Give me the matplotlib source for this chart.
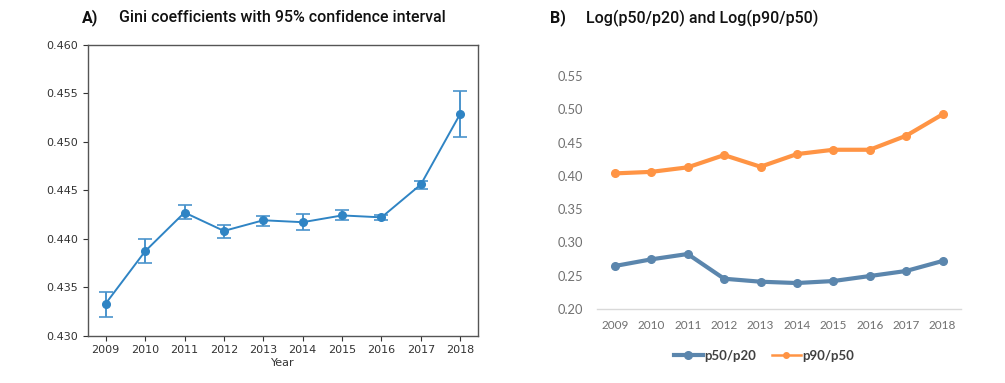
import matplotlib
matplotlib.use("Agg")
import matplotlib.pyplot as plt
from matplotlib.lines import Line2D
import numpy as np

years = [2009, 2010, 2011, 2012, 2013, 2014, 2015, 2016, 2017, 2018]
gini = [0.4333, 0.4387, 0.4427, 0.4408, 0.4419, 0.4417, 0.4424, 0.4422, 0.4456, 0.4529]
gini_low = [0.4319, 0.4375, 0.4420, 0.4401, 0.4413, 0.4409, 0.4419, 0.4419, 0.4451, 0.4505]
gini_high = [0.4345, 0.4400, 0.4435, 0.4414, 0.4423, 0.4425, 0.4430, 0.4424, 0.4460, 0.4553]
p50_p20 = [0.2646, 0.2746, 0.2826, 0.2455, 0.2410, 0.2390, 0.2420, 0.2495, 0.2571, 0.2721]
p90_p50 = [0.4037, 0.4060, 0.4128, 0.4312, 0.4137, 0.4327, 0.4392, 0.4392, 0.4602, 0.4923]
series_names = ["p50/p20", "p90/p50"]

W, H = 1005, 383
fig = plt.figure(figsize=(W / 100, H / 100), dpi=100)

# ---------- Panel A ----------
axA = fig.add_axes([88 / W, 1 - 335.5 / H, 390 / W, 290.5 / H])
g = np.array(gini)
yerr = np.vstack([g - np.array(gini_low), np.array(gini_high) - g])
axA.errorbar(years, gini, yerr=yerr, fmt='-o', color='#2f84c4', ecolor='#4a94cc',
             markersize=5.5, lw=1.4, elinewidth=1.4, capsize=5, capthick=1.2)
axA.set_ylim(0.430, 0.460)
axA.set_xlim(2008.55, 2018.45)
axA.set_xticks(years)
axA.set_yticks([0.430, 0.435, 0.440, 0.445, 0.450, 0.455, 0.460])
axA.set_yticklabels(["0.430", "0.435", "0.440", "0.445", "0.450", "0.455", "0.460"])
axA.tick_params(labelsize=8, colors='#333333', length=3.5)
for s in axA.spines.values():
    s.set_color('#555555')
    s.set_linewidth(1.0)
axA.set_xlabel("Year", fontsize=8, color='#333333', labelpad=2)

fig.text(82 / W, 1 - 18 / H, "A)", fontsize=11.5, fontweight='bold', family='Roboto',
         va='center', ha='left', color='#111111')
fig.text(119 / W, 1 - 18 / H, "Gini coefficients with 95% confidence interval",
         fontsize=11.5, fontweight='medium', family='Roboto', va='center', ha='left', color='#111111')

# ---------- Panel B ----------
axB = fig.add_axes([596.7 / W, 1 - 309 / H, 364 / W, 233 / H])
x = np.arange(len(years))
blue = '#5b86ad'
orange = '#ff9444'
axB.plot(x, p50_p20, '-o', color=blue, lw=3, markersize=5.5, solid_capstyle='round')
axB.plot(x, p90_p50, '-o', color=orange, lw=3, markersize=5.5, solid_capstyle='round')
axB.set_xlim(-0.5, len(years) - 0.5)
axB.set_ylim(0.20, 0.55)
axB.set_yticks([0.20, 0.25, 0.30, 0.35, 0.40, 0.45, 0.50, 0.55])
axB.set_yticklabels(["0.20", "0.25", "0.30", "0.35", "0.40", "0.45", "0.50", "0.55"])
axB.set_xticks(x)
axB.set_xticklabels([str(y) for y in years])
for side in ['top', 'right', 'left']:
    axB.spines[side].set_visible(False)
axB.spines['bottom'].set_color('#d9d9d9')
axB.spines['bottom'].set_linewidth(1.0)
axB.tick_params(axis='both', length=0, colors='#707070')
axB.tick_params(axis='y', labelsize=9.3, pad=10)
axB.tick_params(axis='x', labelsize=8.5, pad=8)
for lab in axB.get_xticklabels() + axB.get_yticklabels():
    lab.set_family('Lato')

handles = [Line2D([0], [0], color=blue, lw=3, marker='o', markersize=5.5),
           Line2D([0], [0], color=orange, lw=1.8, marker='o', markersize=4)]
leg = fig.legend(handles, series_names, loc='center', bbox_to_anchor=(764 / W, 1 - 356 / H),
                 ncol=2, frameon=False, handlelength=2.2, handletextpad=0.1, columnspacing=1.2,
                 prop={'family': 'Lato', 'weight': 'bold', 'size': 9.5})
for t in leg.get_texts():
    t.set_color('#404040')

fig.text(550 / W, 1 - 18 / H, "B)", fontsize=11.5, fontweight='bold', family='Roboto',
         va='center', ha='left', color='#111111')
fig.text(586 / W, 1 - 18 / H, "Log(p50/p20) and Log(p90/p50)",
         fontsize=11.5, fontweight='medium', family='Roboto', va='center', ha='left', color='#111111')

fig.savefig("out.png", dpi=100)
